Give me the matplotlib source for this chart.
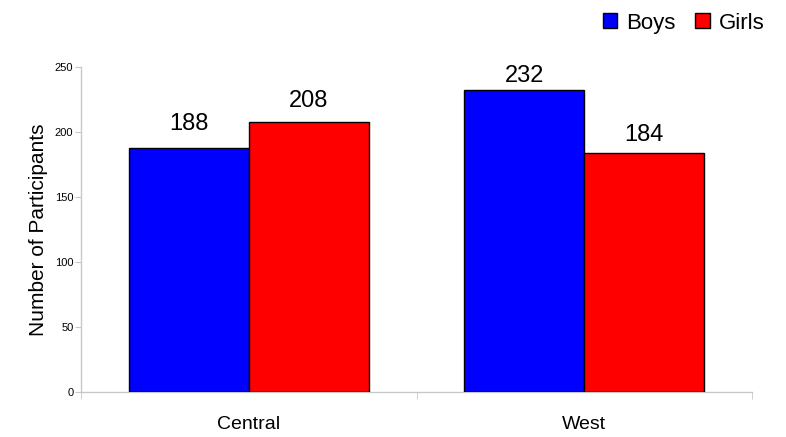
import matplotlib
matplotlib.use("Agg")
import matplotlib.pyplot as plt
import numpy as np
from matplotlib.patches import Patch

plt.rcParams['font.family'] = ['Liberation Sans', 'DejaVu Sans']

categories = ["Central", "West"]
series_names = ["Boys", "Girls"]
boys = [188, 232]
girls = [208, 184]
colors = ["#0000FF", "#FF0000"]
y_ticks = [0, 50, 100, 150, 200, 250]

# label offsets above bar tops (points), as placed in the original
boys_label_offsets = [13, 6]
girls_label_offsets = [10.5, 8.7]

fig = plt.figure(figsize=(7.86, 4.37), dpi=100)
ax = fig.add_axes([81/786, 1-392/437, (752-81)/786, (392-67)/437])

x = np.arange(len(categories))
w = 0.357
axis_gray = "#c8c8c8"
for vals, offs, off, col in [(boys, boys_label_offsets, -w/2, colors[0]),
                             (girls, girls_label_offsets, w/2, colors[1])]:
    bars = ax.bar(x + off, vals, width=w, color=col, edgecolor="black", linewidth=1.0, zorder=3)
    for b, v, o in zip(bars, vals, offs):
        ax.annotate(str(v), (b.get_x() + b.get_width()/2, v), xytext=(0, o),
                    textcoords="offset points", ha="center", va="baseline", fontsize=17)

ax.set_xlim(-0.5, len(categories) - 0.5)
ax.set_ylim(0, 250)
ax.set_yticks(y_ticks)
ax.set_yticklabels([str(t) for t in y_ticks], fontsize=8)
ax.set_xticks(x)
ax.set_xticklabels(categories, fontsize=14)
ax.set_xticks(np.arange(-0.5, len(categories)), minor=True)
ax.tick_params(axis='x', which='major', length=0, pad=17)
ax.tick_params(axis='x', which='minor', length=5, color=axis_gray, direction='out')
ax.tick_params(axis='y', length=4, color=axis_gray, direction='out', pad=1.5)
for s in ["top", "right"]:
    ax.spines[s].set_visible(False)
for s in ["left", "bottom"]:
    ax.spines[s].set_color(axis_gray)
    ax.spines[s].set_linewidth(1.0)
ax.set_ylabel("Number of Participants", fontsize=15, labelpad=5)

handles = [Patch(facecolor=c, edgecolor="black", linewidth=1.0) for c in colors]
fig.legend(handles, series_names, loc="upper right", bbox_to_anchor=(780/786, 1+3/437),
           ncol=2, frameon=False, fontsize=16, handlelength=0.65, handleheight=0.65,
           handletextpad=0.4, columnspacing=0.9, borderpad=0.2)

fig.savefig("out.png", dpi=100)
